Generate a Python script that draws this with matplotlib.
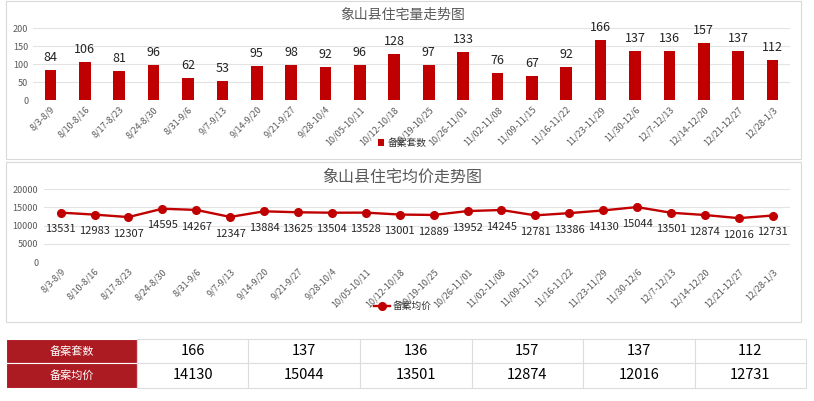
import matplotlib.pyplot as plt
from matplotlib.patches import Rectangle

plt.rcParams['font.family'] = ['Noto Sans CJK SC', 'DejaVu Sans']

# 周度数据
weeks = ["8/3-8/9", "8/10-8/16", "8/17-8/23", "8/24-8/30", "8/31-9/6", "9/7-9/13",
         "9/14-9/20", "9/21-9/27", "9/28-10/4", "10/05-10/11", "10/12-10/18",
         "10/19-10/25", "10/26-11/01", "11/02-11/08", "11/09-11/15", "11/16-11/22",
         "11/23-11/29", "11/30-12/6", "12/7-12/13", "12/14-12/20", "12/21-12/27",
         "12/28-1/3"]
units = [84, 106, 81, 96, 62, 53, 95, 98, 92, 96, 128, 97, 133, 76, 67, 92,
         166, 137, 136, 157, 137, 112]
prices = [13531, 12983, 12307, 14595, 14267, 12347, 13884, 13625, 13504, 13528,
          13001, 12889, 13952, 14245, 12781, 13386, 14130, 15044, 13501, 12874,
          12016, 12731]
row_names = ["备案套数", "备案均价"]
last_n = 6

RED = "#C00000"
GREY = "#595959"
GRID = "#E3E3E3"
W, H = 814, 401


def box(l, t, r, b):
    # 像素坐标 -> figure 坐标
    return [l / W, 1 - b / H, (r - l) / W, (b - t) / H]


def style_axes(ax, pad):
    for s in ax.spines.values():
        s.set_visible(False)
    ax.grid(axis='y', color=GRID, linewidth=0.8, zorder=0)
    ax.set_axisbelow(True)
    ax.tick_params(length=0, labelsize=6.5, labelcolor=GREY)
    ax.tick_params(axis='y', pad=pad)
    ax.set_xlim(-0.5, len(weeks) - 0.5)
    ax.set_xticks(range(len(weeks)))
    ax.set_xticklabels(weeks, rotation=45, ha='right', rotation_mode='anchor')


fig = plt.figure(figsize=(W / 100, H / 100), dpi=100)

# 外框
for t, b in [(1, 159), (162, 322)]:
    fig.patches.append(Rectangle((6 / W, 1 - b / H), 795 / W, (b - t) / H,
                                 transform=fig.transFigure, fill=False,
                                 edgecolor='#D9D9D9', linewidth=0.8))

x = range(len(weeks))

# 住宅量
ax1 = fig.add_axes(box(33.3, 28, 789.7, 100))
ax1.bar(x, units, width=0.34, color=RED, label="备案套数", zorder=3)
for i, v in enumerate(units):
    ax1.annotate(str(v), (i, v), xytext=(0, 9), textcoords='offset points',
                 ha='center', va='center', fontsize=9, color='#222222')
ax1.set_ylim(0, 200)
ax1.set_yticks(range(0, 201, 50))
style_axes(ax1, 3.5)
fig.text(403 / W, 1 - 15 / H, "象山县住宅量走势图", ha='center', va='center',
         fontsize=10, color=GREY)
fig.legend(handles=ax1.get_legend_handles_labels()[0], labels=["备案套数"],
           loc='center', bbox_to_anchor=(402 / W, 1 - 143 / H), frameon=False,
           fontsize=7, handlelength=0.7, handleheight=0.7, handletextpad=0.3,
           labelcolor='#333333')

# 均价
ax2 = fig.add_axes(box(43.7, 189, 789.6, 262))
ax2.plot(x, prices, color=RED, linewidth=1.7, marker='o', markersize=5.5,
         label="备案均价", zorder=3)
for i, v in enumerate(prices):
    ax2.annotate(str(v), (i, v), xytext=(0, -12), textcoords='offset points',
                 ha='center', va='center', fontsize=8, color='#262626')
ax2.set_ylim(0, 20000)
ax2.set_yticks(range(0, 20001, 5000))
style_axes(ax2, 4)
fig.text(402 / W, 1 - 177 / H, "象山县住宅均价走势图", ha='center', va='center',
         fontsize=11.5, color=GREY)
fig.legend(handles=ax2.get_legend_handles_labels()[0], labels=["备案均价"],
           loc='center', bbox_to_anchor=(403 / W, 1 - 306 / H), frameon=False,
           fontsize=7, handlelength=1.6, handletextpad=0.3, labelcolor='#333333')

# 近六周表格
ax3 = fig.add_axes(box(6, 339, 806, 387.5))
ax3.axis('off')
cells = [[row_names[0]] + [str(v) for v in units[-last_n:]],
         [row_names[1]] + [str(v) for v in prices[-last_n:]]]
widths = [131] + [669 / last_n] * last_n
tbl = ax3.table(cellText=cells, cellLoc='center', bbox=[0, 0, 1, 1],
                colWidths=[w / sum(widths) for w in widths])
tbl.auto_set_font_size(False)
for (r, c), cell in tbl.get_celld().items():
    if c == 0:
        cell.set_facecolor('#AC1A22')
        cell.set_edgecolor('white')
        cell.get_text().set_color('white')
        cell.get_text().set_fontsize(8)
    else:
        cell.set_edgecolor('#DCDCDC')
        cell.get_text().set_color('black')
        cell.get_text().set_fontsize(10.5)
    cell.set_linewidth(0.8)

fig.savefig("out.png", dpi=100)
